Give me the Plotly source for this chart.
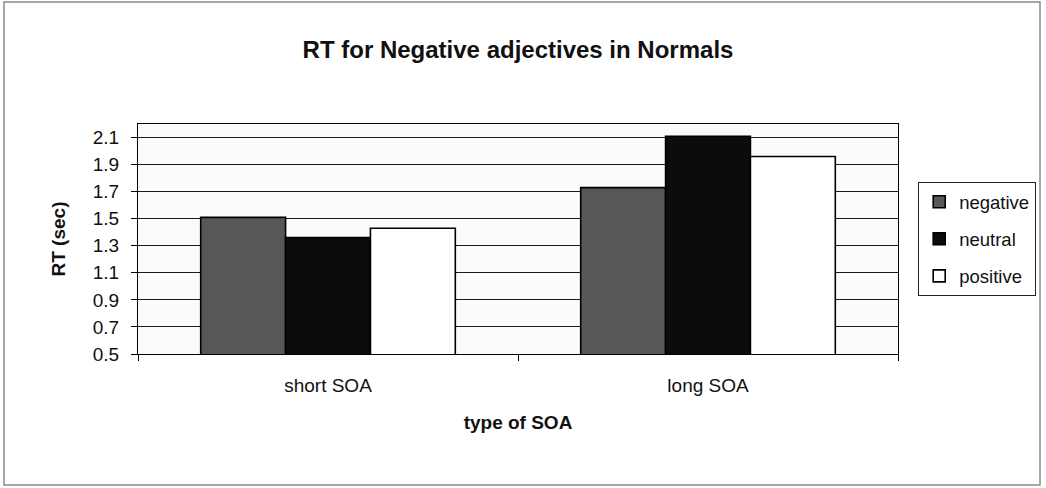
import plotly.graph_objects as go

# Reaction times (seconds) by SOA type and adjective valence
soa_types = ["short SOA", "long SOA"]
series_names = ["negative", "neutral", "positive"]
negative_rt = [1.51, 1.73]
neutral_rt = [1.36, 2.11]
positive_rt = [1.43, 1.96]
y_ticks = [0.5, 0.7, 0.9, 1.1, 1.3, 1.5, 1.7, 1.9, 2.1]

fills = ["#575757", "#0c0c0c", "#ffffff"]

W, H = 1046, 488
M_L, M_R, M_T, M_B = 138, 148, 124, 134
plot_w = W - M_L - M_R
plot_h = H - M_T - M_B

def px_x(px):
    return (px - M_L) / plot_w

def px_y(py):
    return (H - M_B - py) / plot_h

fig = go.Figure()
for name, vals, col in zip(series_names, [negative_rt, neutral_rt, positive_rt], fills):
    fig.add_trace(go.Bar(
        x=soa_types, y=vals, name=name, legendgroup=name,
        marker=dict(color=col, line=dict(color="#000000", width=1.6)),
    ))

fig.update_layout(
    width=W, height=H,
    margin=dict(l=M_L, r=M_R, t=M_T, b=M_B, pad=0, autoexpand=False),
    paper_bgcolor="#ffffff",
    plot_bgcolor="#fbfbfb",
    barmode="group", bargap=0.33, bargroupgap=0,
    font=dict(family="Liberation Sans, Arial, sans-serif", size=19, color="#111111"),
    title=dict(text="<b>RT for Negative adjectives in Normals</b>",
               x=0.5, xref="paper", xanchor="center",
               y=1 - 50 / H, yanchor="middle",
               font=dict(size=24, color="#111111")),
    legend=dict(
        x=px_x(918), xanchor="left", y=px_y(182), yanchor="top",
        bgcolor="#ffffff", bordercolor="#222222", borderwidth=1.2,
        traceorder="grouped", tracegroupgap=10,
        font=dict(size=18.5), itemwidth=30,
    ),
    xaxis=dict(
        showline=True, linecolor="#000000", linewidth=1.2, mirror=True,
        ticks="outside", tickson="boundaries", ticklen=6, tickcolor="#000000",
        ticklabelstandoff=14,
        showgrid=False,
        title=dict(text="<b>type of SOA</b>", standoff=20, font=dict(size=19)),
        tickfont=dict(size=19),
    ),
    yaxis=dict(
        range=[0.5, 2.2], tickvals=y_ticks, tickformat=".1f",
        showline=True, linecolor="#000000", linewidth=1.2, mirror=True,
        ticks="outside", ticklen=6, tickcolor="#000000",
        ticklabelstandoff=8,
        showgrid=True, gridcolor="#1a1a1a", gridwidth=1.3,
        zeroline=False,
        title=dict(text="<b>RT (sec)</b>", standoff=22, font=dict(size=19)),
        tickfont=dict(size=19),
    ),
    shapes=[dict(
        type="rect", xref="paper", yref="paper",
        x0=px_x(4), x1=px_x(1040), y0=px_y(485), y1=px_y(2),
        line=dict(color="#8a8a8a", width=1.5), fillcolor="rgba(0,0,0,0)",
        layer="below",
    )],
)

fig.write_html("out.html")
